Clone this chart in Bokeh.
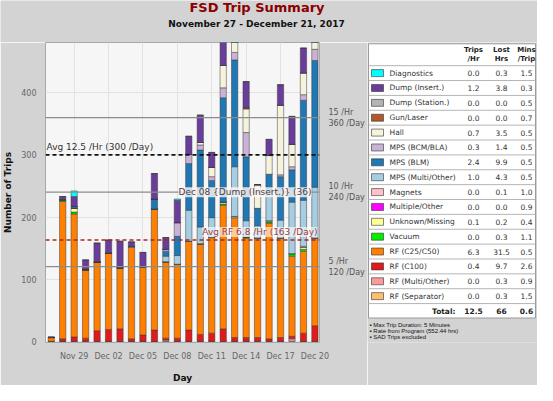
from bokeh.plotting import figure
from bokeh.models import ColumnDataSource, Range1d, FixedTicker, LinearAxis, Span, Label
from bokeh.layouts import column, row
from bokeh.embed import file_html
from bokeh.resources import INLINE
from bokeh.core.properties import value

BG = "#d3d3d3"
FONT = "DejaVu Sans"

title_text = "FSD Trip Summary"
subtitle_text = "November 27 - December 21, 2017"

days = ["Nov 27", "Nov 28", "Nov 29", "Nov 30", "Dec 01", "Dec 02", "Dec 03", "Dec 04",
        "Dec 05", "Dec 06", "Dec 07", "Dec 08", "Dec 09", "Dec 10", "Dec 11", "Dec 12",
        "Dec 13", "Dec 14", "Dec 15", "Dec 16", "Dec 17", "Dec 18", "Dec 19", "Dec 20"]
tick_labels = ["Nov 29", "Dec 02", "Dec 05", "Dec 08", "Dec 11", "Dec 14", "Dec 17", "Dec 20"]

# legend / table order
categories = ["Diagnostics", "Dump (Insert.)", "Dump (Station.)", "Gun/Laser", "Hall",
              "MPS (BCM/BLA)", "MPS (BLM)", "MPS (Multi/Other)", "Magnets", "Multiple/Other",
              "Unknown/Missing", "Vacuum", "RF (C25/C50)", "RF (C100)", "RF (Multi/Other)",
              "RF (Separator)"]
colors = ["#00ffff", "#6a3d9a", "#b3b3b3", "#b15928", "#f5f3dc",
          "#cab2d6", "#1f78b4", "#a6cee3", "#ffc0cb", "#ff00ff",
          "#ffff99", "#00ee00", "#ff7f00", "#e31a1c", "#fb9a99",
          "#fdbf6f"]
trips_per_hr = ["0.0", "1.2", "0.0", "0.0", "0.7", "0.3", "2.4", "1.0", "0.0", "0.0",
                "0.1", "0.0", "6.3", "0.4", "0.0", "0.0"]
lost_hrs = ["0.3", "3.8", "0.0", "0.0", "3.5", "1.4", "9.9", "4.3", "0.1", "0.0",
            "0.2", "0.3", "31.5", "9.7", "0.3", "0.3"]
mins_per_trip = ["1.5", "0.3", "0.5", "0.7", "0.5", "0.5", "0.5", "0.5", "1.0", "0.9",
                 "0.4", "1.1", "0.5", "2.6", "0.9", "1.5"]
total_row = ["Total:", "12.5", "66", "0.6"]
notes = ["\u25aa Max Trip Duration: 5 Minutes", "\u25aa Rate from Program (552.44 hrs)",
         "\u25aa SAD Trips excluded"]

# daily trip counts per category (Nov 27 .. Dec 20)
diagnostics     = [0, 0, 9, 0, 0, 0, 0, 0, 0, 0, 0, 2, 0, 0, 0, 0, 0, 0, 0, 0, 0, 0, 0, 0]
dump_insert     = [1, 5, 16, 15, 30, 21, 41, 7, 23, 41, 19, 36, 29, 44, 24, 50, 0, 42, 0, 26, 33, 45, 40, 0]
dump_station    = [0] * 24
gun_laser       = [0, 0, 0, 0, 0, 0, 0, 0, 0, 0, 0, 0, 0, 0, 0, 0, 0, 2, 0, 0, 0, 0, 0, 0]
hall            = [0, 0, 0, 0, 0, 0, 0, 2, 0, 0, 0, 0, 0, 4, 15, 36, 30, 38, 38, 30, 112, 36, 35, 18]
mps_bcm         = [0, 0, 0, 0, 0, 0, 0, 0, 0, 0, 3, 22, 15, 8, 6, 16, 12, 39, 0, 0, 3, 5, 9, 18]
mps_blm         = [0, 0, 3, 1, 1, 0, 2, 0, 0, 16, 8, 31, 75, 124, 60, 168, 172, 103, 28, 31, 70, 52, 161, 204]
mps_multi       = [0, 0, 0, 0, 0, 0, 0, 0, 0, 0, 9, 14, 50, 27, 32, 0, 80, 26, 20, 44, 29, 83, 74, 82]
magnets         = [0, 0, 0, 0, 0, 0, 0, 0, 0, 0, 0, 0, 0, 0, 0, 0, 0, 0, 0, 0, 0, 0, 2, 0]
multiple_other  = [0] * 24
unknown_missing = [0, 0, 6, 0, 0, 0, 0, 0, 0, 0, 0, 0, 0, 0, 0, 3, 2, 0, 0, 2, 0, 0, 3, 0]
vacuum          = [0, 3, 3, 0, 0, 0, 0, 0, 0, 0, 0, 0, 0, 0, 0, 2, 0, 2, 0, 2, 0, 4, 3, 0]
rf_c25          = [6, 221, 198, 110, 110, 123, 98, 147, 110, 195, 123, 119, 143, 146, 154, 199,
                   193, 160, 160, 186, 160, 129, 132, 141]
rf_c100         = [0, 4, 7, 5, 17, 19, 20, 4, 10, 18, 3, 5, 18, 11, 13, 20, 6, 6, 6, 4, 6, 4, 13, 25]
rf_multi        = [0, 0, 0, 0, 0, 0, 0, 0, 0, 0, 2, 0, 0, 0, 0, 0, 0, 0, 0, 0, 0, 4, 0, 0]
rf_separator    = [0] * 24

series = [diagnostics, dump_insert, dump_station, gun_laser, hall, mps_bcm, mps_blm,
          mps_multi, magnets, multiple_other, unknown_missing, vacuum, rf_c25, rf_c100,
          rf_multi, rf_separator]

avg_total_hr, avg_total_day = 12.5, 300
avg_rf_hr, avg_rf_day = 6.8, 163
rate_hr = [5, 10, 15]
rate_day = [120, 240, 360]
y_ticks = [0, 100, 200, 300, 400]
note_day, note_cat, note_count = "Dec 08", "Dump (Insert.)", 36

# ---------------- head ----------------
head = figure(width=537, height=42, x_range=Range1d(0, 537), y_range=Range1d(42, 0),
              output_backend="svg", toolbar_location=None, min_border=0,
              x_axis_location=None, y_axis_location=None,
              background_fill_color=BG, border_fill_color=BG, outline_line_color=None)
head.grid.visible = False
head.text(x=[256.5], y=[6.5], text=[title_text], text_font=value(FONT), text_font_size="13px",
          text_font_style="bold", text_color="#8b0000", text_align="center", text_baseline="middle")
head.text(x=[256], y=[23], text=[subtitle_text], text_font=value(FONT), text_font_size="9px",
          text_font_style="bold", text_color="#111111", text_align="center", text_baseline="middle")

# ---------------- chart ----------------
n = len(days)
data = {"x": list(range(n))}
for c, s in zip(categories, series):
    data[c] = s
src = ColumnDataSource(data)

chart = figure(width=367, height=343, x_range=Range1d(-0.5, 23.4), y_range=Range1d(-2, 481),
               output_backend="svg", toolbar_location=None,
               min_border_left=37, min_border_right=45, min_border_top=0, min_border_bottom=33,
               background_fill_color="#f6f6f6", border_fill_color=BG,
               outline_line_color="#a8a8a8")

stack_order = categories[::-1]
stack_colors = colors[::-1]
chart.vbar_stack(stack_order, x="x", width=0.55, color=stack_colors, source=src,
                 line_color="#3a3a3a", line_width=0.5)

tick_pos = [days.index(t) for t in tick_labels]
chart.xaxis.ticker = FixedTicker(ticks=tick_pos)
chart.xaxis.major_label_overrides = {p: t for p, t in zip(tick_pos, tick_labels)}
chart.yaxis.ticker = FixedTicker(ticks=y_ticks)
for ax in (chart.xaxis[0], chart.yaxis[0]):
    ax.axis_line_color = None
    ax.major_tick_line_color = None
    ax.minor_tick_line_color = None
    ax.major_label_text_font = FONT
    ax.major_label_text_font_size = "8px"
    ax.major_label_text_color = "#666666"
    ax.major_label_standoff = 3
    ax.axis_label_text_font = FONT
    ax.axis_label_text_font_size = "9px"
    ax.axis_label_text_font_style = "bold"
    ax.axis_label_text_color = "#111111"
chart.xaxis.axis_label = "Day"
chart.xaxis.axis_label_standoff = 9
chart.yaxis.axis_label = "Number of Trips"
chart.yaxis.axis_label_standoff = 5
chart.grid.grid_line_color = "#e2e2e2"

rax = LinearAxis(ticker=FixedTicker(ticks=rate_day),
                 major_label_overrides={d: f"{h} /Hr\n{d} /Day" for h, d in zip(rate_hr, rate_day)})
rax.axis_line_color = None
rax.major_tick_line_color = None
rax.minor_tick_line_color = None
rax.major_label_text_font = FONT
rax.major_label_text_font_size = "8px"
rax.major_label_text_color = "#555555"
rax.major_label_standoff = 3
chart.add_layout(rax, "right")

for d in rate_day:
    chart.add_layout(Span(location=d, dimension="width", line_color="#8c8c8c", line_width=1.3))
chart.add_layout(Span(location=avg_total_day, dimension="width", line_color="#111111",
                      line_width=1.8, line_dash="4 3"))
chart.add_layout(Span(location=avg_rf_day, dimension="width", line_color="#a52a2a",
                      line_width=1.4, line_dash="4 3"))

chart.add_layout(Label(x=-0.5, y=avg_total_day, x_offset=1, y_offset=3,
                       text=f"Avg {avg_total_hr} /Hr ({avg_total_day} /Day)",
                       text_font=FONT, text_font_size="9px", text_color="#333333",
                       text_baseline="bottom", text_align="left"))
chart.add_layout(Label(x=23.4, y=avg_rf_day, x_offset=-2, y_offset=3,
                       text=f"Avg RF {avg_rf_hr} /Hr ({avg_rf_day} /Day)",
                       text_font=FONT, text_font_size="9px", text_color="#a04040",
                       text_baseline="bottom", text_align="right",
                       background_fill_color="white", background_fill_alpha=0.6))
chart.add_layout(Label(x=23.4, y=rate_day[1], x_offset=-8, y_offset=0,
                       text=f"{note_day} {{{note_cat}}} ({note_count})",
                       text_font=FONT, text_font_size="9px", text_color="#444444",
                       text_baseline="middle", text_align="right",
                       background_fill_color="#fff6f6", background_fill_alpha=0.8))

# ---------------- table ----------------
tbl = figure(width=170, height=343, x_range=Range1d(0, 170), y_range=Range1d(343, 0),
             output_backend="svg", toolbar_location=None, min_border=0,
             x_axis_location=None, y_axis_location=None,
             background_fill_color=BG, border_fill_color=BG, outline_line_color=None)
tbl.grid.visible = False

top, head_h, row_h = 1.5, 25.0, 17.0
nrows = len(categories)
box_l, box_r = 1, 168
bottom = top + head_h + row_h * nrows + 16.5
tbl.quad(left=[box_l], right=[box_r], top=[top], bottom=[bottom], fill_color="white",
         line_color="#9a9a9a", line_width=1)
seps = [top + head_h + row_h * i for i in range(nrows + 1)]
tbl.segment(x0=[box_l] * len(seps), x1=[box_r] * len(seps), y0=seps, y1=seps,
            line_color="#b5b5b5", line_width=1)
centers = [top + head_h + row_h * (i + 0.5) for i in range(nrows)]
tbl.rect(x=[10] * nrows, y=centers, width=12, height=8, fill_color=colors,
         line_color="#333333", line_width=0.6)
tf = value(FONT)
tbl.text(x=[22] * nrows, y=centers, text=categories, text_font=tf, text_font_size="7.5px",
         text_color="#333333", text_baseline="middle")
col_x = [106, 134, 159]
for cx, vals in zip(col_x, [trips_per_hr, lost_hrs, mins_per_trip]):
    tbl.text(x=[cx] * nrows, y=centers, text=vals, text_font=tf, text_font_size="7.5px",
             text_color="#333333", text_baseline="middle", text_align="center")
hdr1 = ["Trips", "Lost", "Mins"]
hdr2 = ["/Hr", "Hrs", "/Trip"]
tbl.text(x=col_x, y=[9] * 3, text=hdr1, text_font=tf, text_font_size="7px",
         text_font_style="bold", text_color="#222222", text_baseline="middle", text_align="center")
tbl.text(x=col_x, y=[18.5] * 3, text=hdr2, text_font=tf, text_font_size="7px",
         text_font_style="bold", text_color="#222222", text_baseline="middle", text_align="center")
ty = seps[-1] + 8.5
tbl.text(x=[88], y=[ty], text=[total_row[0]], text_font=tf, text_font_size="7.5px",
         text_font_style="bold", text_color="#222222", text_baseline="middle", text_align="right")
tbl.text(x=col_x, y=[ty] * 3, text=total_row[1:], text_font=tf, text_font_size="7.5px",
         text_font_style="bold", text_color="#222222", text_baseline="middle", text_align="center")
ny = [bottom + 8 + 7 * i for i in range(len(notes))]
tbl.text(x=[2] * len(notes), y=ny, text=notes, text_font=value("Liberation Sans"),
         text_font_size="6px", text_color="#111111", text_baseline="middle")

layout = column(head, row(chart, tbl))
open("out.html", "w").write(file_html(layout, INLINE))
